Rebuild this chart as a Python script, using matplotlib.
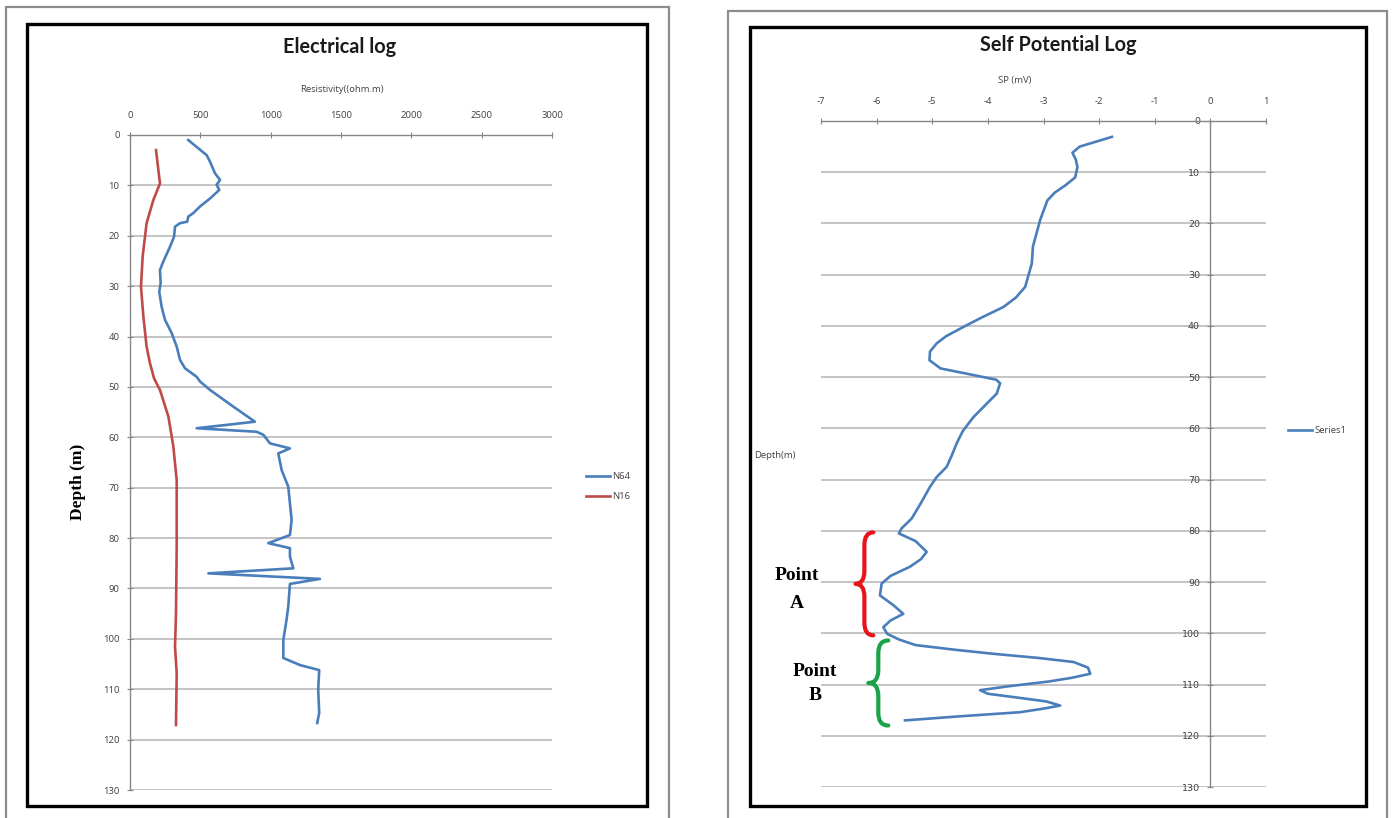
import matplotlib.pyplot as plt
from matplotlib.patches import Rectangle
from matplotlib.path import Path
from matplotlib.patches import PathPatch

plt.rcParams['axes.unicode_minus'] = False

W, H = 1395, 818

# resistivity log, depth in m
n64_depth = [1, 4, 5.3, 7.6, 8.9, 9.9, 10.9, 12.6, 14.2, 15.5, 16.2, 17.2, 17.5, 18.2,
             20.2, 22.2, 25.1, 26.8, 29.4, 31.1, 34.1, 36.7, 39.3, 42.0, 44.6, 46.3,
             48.0, 48.9, 50.6, 53.9, 56.9, 58.2, 58.9, 59.5, 61.2, 62.2, 63.2, 66.5,
             69.8, 73.1, 76.4, 79.4, 81.0, 82.0, 83.7, 86.0, 87.0, 88.1, 89.1, 93.6,
             96.2, 100.2, 103.8, 105.2, 106.2, 110.1, 114.7, 116.7]
n64_res = [414, 545, 569, 604, 640, 616, 635, 569, 497, 450, 414, 407, 355, 320,
           313, 284, 237, 213, 218, 208, 225, 249, 296, 332, 355, 391,
           474, 497, 569, 734, 888, 474, 900, 948, 995, 1137, 1054, 1078,
           1125, 1137, 1149, 1137, 983, 1137, 1137, 1161, 557, 1350, 1137, 1125,
           1113, 1090, 1090, 1208, 1345, 1338, 1345, 1331]

n16_depth = [3.0, 9.6, 12.9, 17.5, 24.1, 30.1, 36.0, 42.0, 45.3, 48.3, 50.6, 55.9,
             61.8, 68.5, 81.7, 94.9, 101.5, 106.8, 117.1]
n16_res = [185, 213, 166, 118, 90, 78, 95, 118, 142, 171, 213, 273,
           308, 332, 332, 327, 320, 332, 327]

# self potential log
sp_depth = [3.1, 5.0, 6.2, 7.5, 9.0, 11.0, 12.5, 14.0, 15.5, 19.3, 24.5, 27.8, 32.4,
            34.5, 36.3, 38.3, 40.2, 42.0, 43.4, 45.0, 46.7, 48.3, 49.5, 50.5, 51.2,
            53.2, 55.5, 57.8, 60.5, 62.9, 65.3, 67.5, 69.5, 71.4, 74.5, 77.6, 79.5,
            80.5, 82.0, 84.1, 85.5, 87.0, 88.8, 90.3, 92.6, 94.5, 96.2, 97.5, 98.8,
            100.1, 101.2, 102.3, 103.2, 104.0, 104.8, 105.6, 106.7, 107.9, 108.7,
            109.4, 110.3, 111.1, 111.8, 112.5, 113.3, 114.1, 114.7, 115.4, 116.2, 117.0]
sp_mv = [-1.77, -2.35, -2.48, -2.42, -2.39, -2.43, -2.6, -2.8, -2.93, -3.06, -3.19, -3.21, -3.33,
         -3.5, -3.72, -4.1, -4.44, -4.75, -4.92, -5.04, -5.05, -4.85, -4.3, -3.85, -3.78,
         -3.84, -4.05, -4.26, -4.45, -4.56, -4.65, -4.74, -4.92, -5.04, -5.2, -5.37, -5.55,
         -5.6, -5.3, -5.1, -5.2, -5.4, -5.75, -5.91, -5.94, -5.7, -5.52, -5.75, -5.88,
         -5.81, -5.6, -5.3, -4.6, -3.9, -3.1, -2.46, -2.2, -2.16, -2.5,
         -2.9, -3.6, -4.14, -4.0, -3.5, -2.95, -2.7, -3.0, -3.42, -4.5, -5.49]

res_ticks = [0, 500, 1000, 1500, 2000, 2500, 3000]
sp_ticks = [-7, -6, -5, -4, -3, -2, -1, 0, 1]
depth_ticks = list(range(0, 131, 10))

BLUE = '#4a7ebb'
RED = '#be4b48'
GRID = '#bfbfbf'
AXC = '#868686'
TXT = '#404040'


def fx(x):
    return x / W


def fy(y):
    return 1 - y / H


def box(x0, y0, x1, y1):
    return [fx(x0), fy(y1), fx(x1) - fx(x0), fy(y0) - fy(y1)]


def style_axes(ax, xticks, xlim):
    ax.set_xlim(*xlim)
    ax.set_ylim(130, 0)
    ax.set_xticks(xticks)
    ax.set_yticks(depth_ticks)
    ax.xaxis.tick_top()
    ax.spines['right'].set_visible(False)
    ax.spines['bottom'].set_visible(False)
    for s in ('top', 'left'):
        ax.spines[s].set_color(AXC)
        ax.spines[s].set_linewidth(1.0)
    ax.tick_params(axis='both', direction='inout', length=5, width=0.8, color=AXC,
                   labelsize=6.8, labelcolor=TXT)
    ax.tick_params(axis='x', pad=8)
    ax.tick_params(axis='y', pad=5)
    ax.grid(axis='y', color=GRID, linewidth=1.3)
    ax.set_axisbelow(True)
    for lab in ax.get_xticklabels() + ax.get_yticklabels():
        lab.set_fontfamily('Open Sans')


def brace(ax, x_tip, x_end, y0, y1, color, d=2.5):
    # curly bracket opening to the right, tip pointing left
    ym = (y0 + y1) / 2
    xm = (x_tip + x_end) / 2
    verts = [(x_end, y0),
             (xm, y0), (xm, y0 + d),
             (xm, ym - d),
             (xm, ym), (x_tip, ym),
             (xm, ym), (xm, ym + d),
             (xm, y1 - d),
             (xm, y1), (x_end, y1)]
    codes = [Path.MOVETO,
             Path.CURVE3, Path.CURVE3,
             Path.LINETO,
             Path.CURVE3, Path.CURVE3,
             Path.CURVE3, Path.CURVE3,
             Path.LINETO,
             Path.CURVE3, Path.CURVE3]
    ax.add_patch(PathPatch(Path(verts, codes), fill=False, edgecolor=color,
                           linewidth=3, capstyle='round', joinstyle='round', clip_on=False))


fig = plt.figure(figsize=(W / 100, H / 100), dpi=100)
fig.patch.set_facecolor('white')

# chart frames
for x0, y0, x1 in [(6, 7, 669), (728, 11, 1387)]:
    fig.add_artist(Rectangle((fx(x0), fy(830)), fx(x1) - fx(x0), fy(y0) - fy(830),
                             transform=fig.transFigure, fill=False, edgecolor='#8c8c8c', lw=1.6))
for x0, y0, x1, y1 in [(27, 24, 647, 806), (750, 27, 1366, 806)]:
    fig.add_artist(Rectangle((fx(x0), fy(y1)), fx(x1) - fx(x0), fy(y0) - fy(y1),
                             transform=fig.transFigure, fill=False, edgecolor='black', lw=2.4))

# left: electrical log
ax1 = fig.add_axes(box(130, 135, 552, 790))
style_axes(ax1, res_ticks, (0, 3000))
ax1.plot(n64_res, n64_depth, color=BLUE, lw=1.9, label='N64')
ax1.plot(n16_res, n16_depth, color=RED, lw=1.9, label='N16')
fig.text(fx(340), fy(47), 'Electrical log', ha='center', va='center',
         fontsize=14.3, fontweight='bold', family='Lato', color='#1a1a1a')
fig.text(fx(342), fy(89), 'Resistivity((ohm.m)', ha='center', va='center',
         fontsize=6.8, family='Open Sans', color=TXT)
fig.text(fx(78), fy(482), 'Depth (m)', ha='center', va='center', rotation=90,
         fontsize=12.5, fontweight='bold', family='Liberation Serif', color='black')
ax1.legend(loc='center left', bbox_to_anchor=(1.06, 0.463), frameon=False,
           prop={'family': 'Open Sans', 'size': 6.8}, handlelength=2.6,
           labelspacing=1.2, handletextpad=0.2, labelcolor=TXT)

# right: self potential log
ax2 = fig.add_axes(box(821, 121, 1266, 787))
style_axes(ax2, sp_ticks, (-7, 1))
ax2.spines['left'].set_position(('data', 0))
ax2.plot(sp_mv, sp_depth, color=BLUE, lw=1.9, label='Series1')
fig.text(fx(1058), fy(45), 'Self Potential Log', ha='center', va='center',
         fontsize=14.3, fontweight='bold', family='Lato', color='#1a1a1a')
fig.text(fx(1015), fy(80), 'SP (mV)', ha='center', va='center',
         fontsize=6.8, family='Open Sans', color=TXT)
fig.text(fx(775), fy(455), 'Depth(m)', ha='center', va='center',
         fontsize=6.8, family='Open Sans', color=TXT)
ax2.legend(loc='center left', bbox_to_anchor=(1.03, 0.535), frameon=False,
           prop={'family': 'Open Sans', 'size': 6.8}, handlelength=2.6,
           handletextpad=0.2, labelcolor=TXT)

# zone markers
brace(ax2, -6.38, -6.06, 80.3, 100.4, '#e8141b')
brace(ax2, -6.15, -5.79, 101.4, 118.0, '#1aa34a')
for x, y, s in [(797, 576, 'Point'), (797, 604, 'A'), (815, 671, 'Point'), (815, 695, 'B')]:
    fig.text(fx(x), fy(y), s, ha='center', va='center', fontsize=14,
             fontweight='bold', family='Liberation Serif', color='black')

fig.savefig('out.png', dpi=100)
